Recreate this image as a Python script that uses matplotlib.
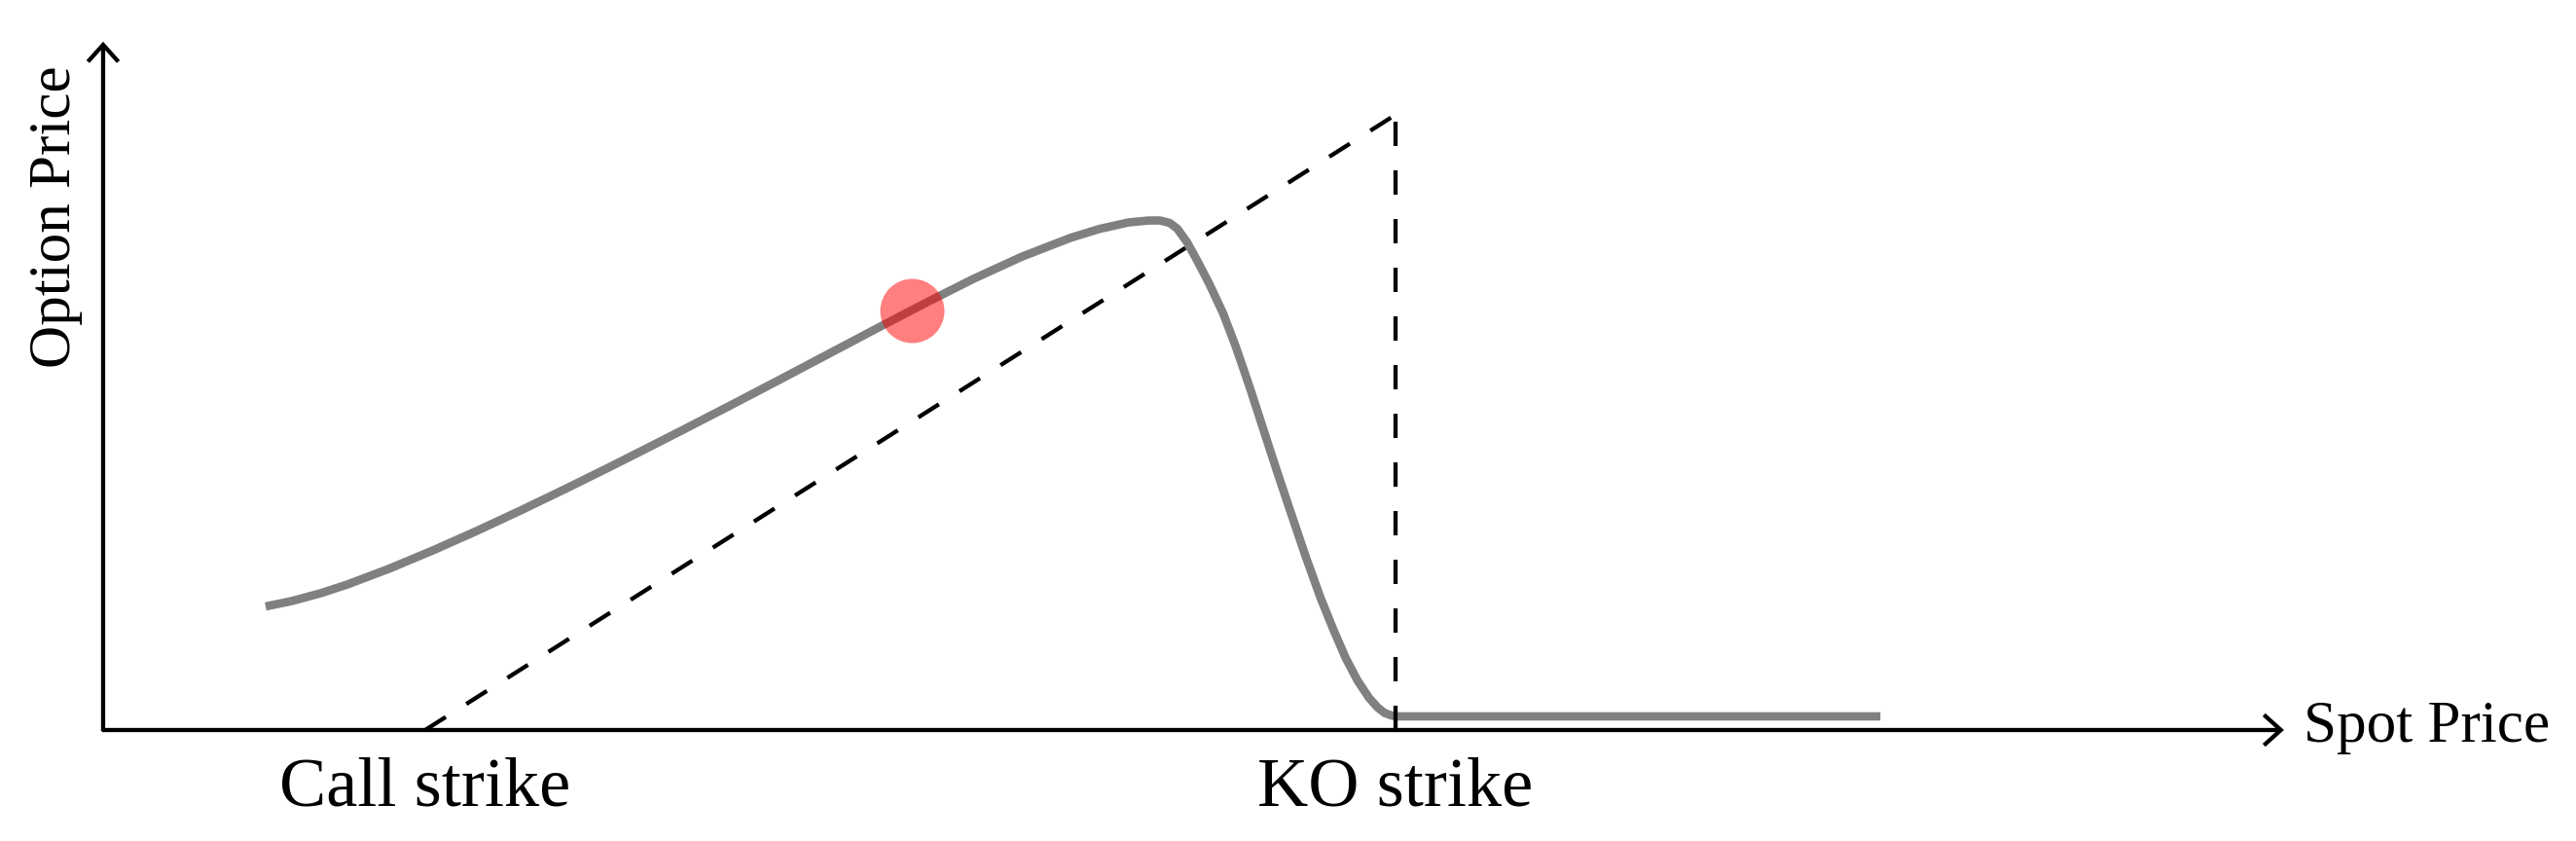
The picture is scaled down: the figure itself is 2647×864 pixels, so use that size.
import matplotlib
matplotlib.use("Agg")
import matplotlib.pyplot as plt

plt.rcParams['font.family'] = ['Liberation Serif', 'DejaVu Serif']
plt.rcParams['lines.scale_dashes'] = False

# ---- data (spot units: call strike 100, KO barrier 200) ----
call_strike = 100.0
ko_strike = 200.0
tick_labels = ["Call strike", "KO strike"]

spot = [83.55, 86.26, 89.27, 91.98, 96.29, 100.90, 105.32, 109.93, 114.34,
        118.86, 123.37, 126.38, 131.39, 136.41, 141.42, 146.44, 151.45,
        156.47, 161.48, 166.50, 169.51, 172.52, 174.52, 175.73, 176.73,
        177.53, 178.54, 179.54, 180.84, 182.25, 183.55, 185.06, 186.26,
        187.76, 189.27, 190.77, 192.28, 193.58, 194.88, 196.09, 197.29,
        198.19, 198.90, 199.60, 200.00, 250.00]
price = [20.09, 20.97, 22.26, 23.66, 26.23, 29.27, 32.37, 35.76, 39.11,
         42.63, 46.22, 48.64, 52.71, 56.84, 61.01, 65.19, 69.32,
         73.31, 76.93, 80.00, 81.46, 82.52, 82.82, 82.83, 82.44,
         81.49, 79.27, 76.42, 72.47, 67.72, 62.34, 55.38, 49.53,
         42.25, 35.13, 28.16, 21.52, 16.46, 11.71, 8.07, 5.22,
         3.64, 2.77, 2.37, 2.22, 2.22]

current_spot = 150.2
current_price = 68.2

payoff_spot = [call_strike, ko_strike]
payoff_value = [0.0, ko_strike - call_strike]

# ---- figure ----
fig = plt.figure(figsize=(26.47, 8.64), dpi=100)
ax = fig.add_axes([0, 0, 1, 1])
ax.set_xlim(56.17, 321.7)
ax.set_ylim(-18.04, 118.67)
ax.axis('off')

axis_x0 = 66.8
axis_x1 = 291.6
axis_y1 = 111.9

arrow = dict(arrowstyle='->, head_length=0.5, head_width=0.45', lw=3.1,
             color='black', shrinkA=0, shrinkB=0, mutation_scale=25,
             capstyle='butt', joinstyle='miter')
ax.annotate('', xy=(axis_x1, 0), xytext=(axis_x0 - 0.1, 0), arrowprops=arrow)
ax.annotate('', xy=(axis_x0, axis_y1), xytext=(axis_x0, -0.2), arrowprops=arrow)

# payoff (dashed)
ax.plot(payoff_spot, payoff_value, color='black', lw=3.1,
        dashes=(18, 18), dash_capstyle='butt', zorder=2)
ax.plot([ko_strike, ko_strike], [0.0, ko_strike - call_strike], color='black',
        lw=3.1, dashes=(18, 18), dash_capstyle='butt', zorder=4)

# option price curve
ax.plot(spot, price, color='#808080', lw=6.2, solid_capstyle='butt',
        solid_joinstyle='round', zorder=3)

# current point
ax.plot([current_spot], [current_price], 'o', ms=47.5, color='red',
        alpha=0.5, markeredgewidth=0, zorder=5)

# labels
ax.text(call_strike, -12.2, tick_labels[0], ha='center', va='baseline', fontsize=52)
ax.text(ko_strike, -12.2, tick_labels[1], ha='center', va='baseline', fontsize=52)
ax.text(293.6, -1.9, "Spot Price", ha='left', va='baseline', fontsize=44)
ax.text(61.9, 83.4, "Option Price", ha='center', va='center', rotation=90,
        fontsize=44)

fig.savefig("out.png", dpi=100)
